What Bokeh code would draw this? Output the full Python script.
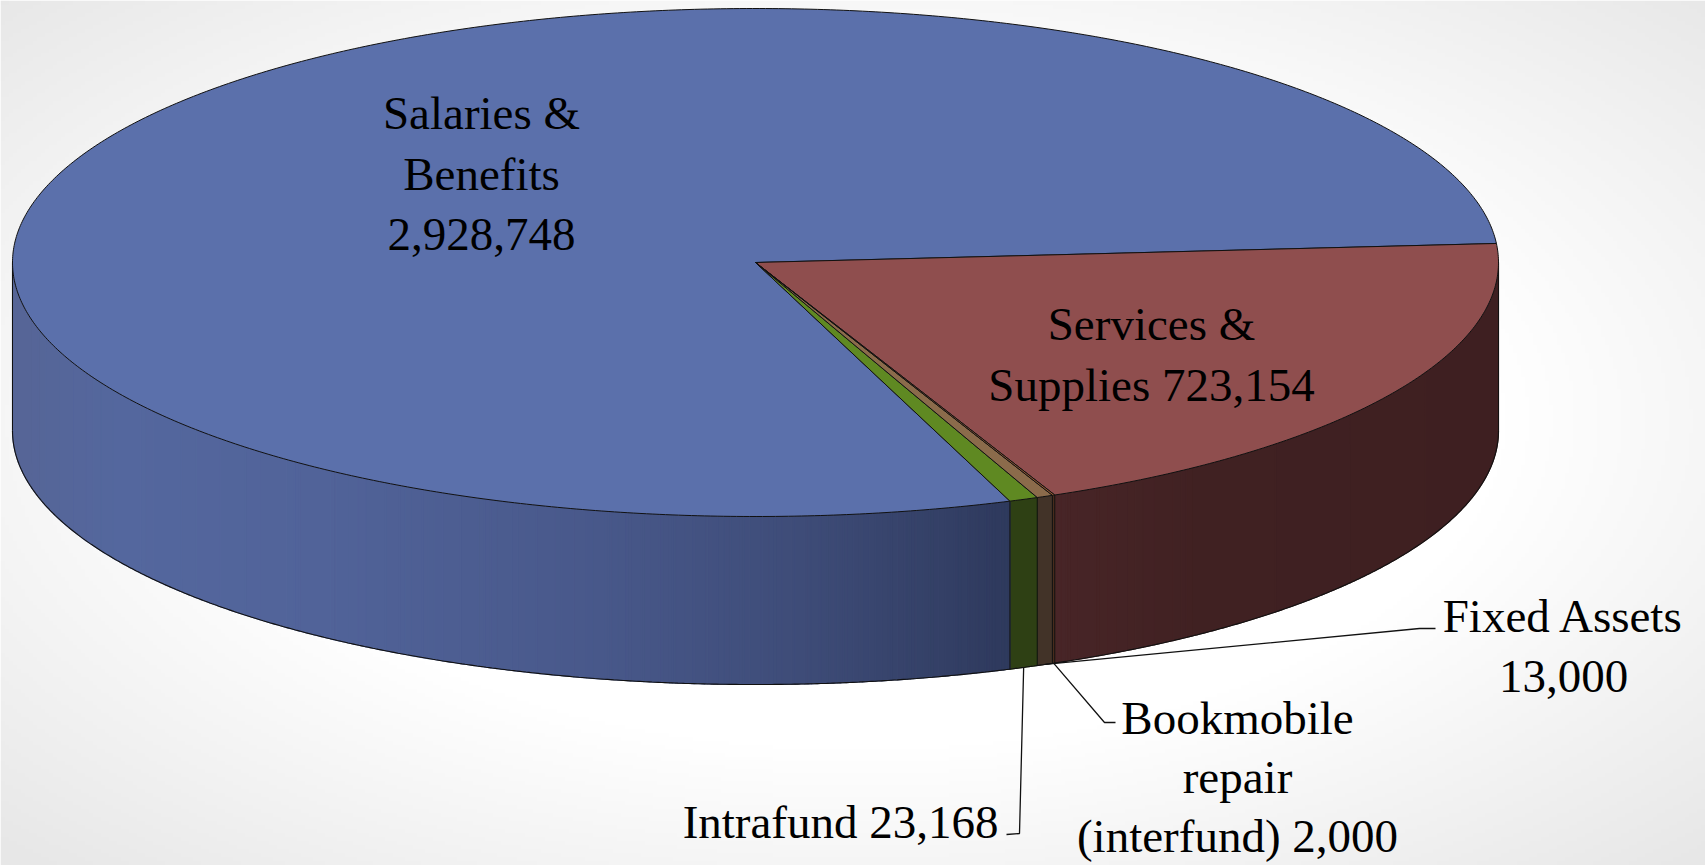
import numpy as np
from bokeh.plotting import figure
from bokeh.models import Range1d
from bokeh.embed import file_html
from bokeh.resources import INLINE
from bokeh.core.properties import value

# ---------------- data ----------------
categories = ["Services & Supplies", "Bookmobile repair (interfund)",
              "Fixed Assets", "Intrafund", "Salaries & Benefits"]
amounts = [723154, 2000, 13000, 23168, 2928748]
label_lines = [
    ["Services &", "Supplies 723,154"],
    ["Bookmobile", "repair", "(interfund) 2,000"],
    ["Fixed Assets", "13,000"],
    ["Intrafund 23,168"],
    ["Salaries &", "Benefits", "2,928,748"],
]

# ---------------- styles / layout ----------------
top_colors = ["#8f4e4e", "#9a5a32", "#8b6b4b", "#5f8922", "#5b70ab"]
side_stops = [
    ([1050, 1200, 1500], [(72, 37, 39), (64, 33, 34), (62, 31, 33)]),
    ([0, 2000], [(74, 44, 30), (74, 44, 30)]),
    ([0, 2000], [(66, 51, 40), (66, 51, 40)]),
    ([0, 2000], [(46, 64, 20), (46, 64, 20)]),
    ([11, 120, 320, 600, 800, 950, 1010],
     [(86, 101, 150), (84, 103, 158), (81, 99, 153), (72, 88, 138),
      (62, 76, 120), (51, 63, 101), (46, 57, 92)]),
]
label_pos = [(1151, 323, "center"), (1237, 717, "center"), (1563, 615, "center"),
             (998, 821, "right"), (481, 112, "center")]
LINE_GAP = [61.0, 59.0, 61.0, 61.0, 61.0]
leader_elbows = {1: [(1104, 722), (1115, 722)],
                 2: [(1419, 628), (1435, 628)],
                 3: [(1019, 833), (1006, 834)]}

CX, CY, RX, RY, DEPTH = 755.0, 262.0, 743.0, 254.0, 168.0
START = 4.3  # degrees, slices run clockwise

W, H = 1705, 865


def pt(theta, z=0.0):
    t = np.radians(theta)
    return CX + RX * np.cos(t), CY - RY * np.sin(t) + z


p = figure(width=W, height=H, x_range=Range1d(0, W), y_range=Range1d(H, 0),
           output_backend="svg", toolbar_location=None,
           x_axis_location=None, y_axis_location=None, min_border=0,
           outline_line_color=None, background_fill_color="white",
           border_fill_color="white")
p.grid.visible = False

# background radial gradient
ny, nx = H // 4, W // 4
yy, xx = np.mgrid[0:ny, 0:nx]
sx = (xx + 0.5) * W / nx
sy = (yy + 0.5) * H / ny
r = np.sqrt(((sx - 860) / 860) ** 2 + ((sy - 420) / 440) ** 2)
g = 255 - 24 * np.clip((r - 0.75) / 0.65, 0, 1)
g = g.astype(np.uint32)
img = (255 << 24) | (g << 16) | (g << 8) | g
p.image_rgba(image=[img.astype(np.uint32)], x=0, y=0, dw=W, dh=H)

# slice angles
total = float(sum(amounts))
spans = [360.0 * a / total for a in amounts]
a0s, a1s = [], []
a = START
for s in spans:
    a0s.append(a)
    a1s.append(a - s)
    a -= s


def side_color(i, x):
    xs_, cs = side_stops[i]
    cs = np.array(cs, dtype=float)
    rgb = [int(round(np.interp(x, xs_, cs[:, k]))) for k in range(3)]
    return "#%02x%02x%02x" % tuple(rgb)


# side walls (front half only: -180..0 degrees), strips merged by colour
wx, wy, wc = [], [], []
boundaries = []
for i in range(len(amounts)):
    hi = min(a0s[i], 0.0)
    lo = max(a1s[i], -180.0)
    if hi <= lo:
        continue
    n = max(1, int(np.ceil((hi - lo) / 0.25)))
    ts = np.linspace(hi, lo, n + 1)
    cols = [side_color(i, (pt(t1)[0] + pt(t2)[0]) / 2) for t1, t2 in zip(ts[:-1], ts[1:])]
    k = 0
    while k < n:
        j = k
        while j + 1 < n and cols[j + 1] == cols[k]:
            j += 1
        seg = np.linspace(ts[k], ts[j + 1], max(2, j - k + 2))
        x, y = pt(seg)
        wx.append(list(x) + list(x[::-1]))
        wy.append(list(y) + list((y + DEPTH)[::-1]))
        wc.append(cols[k])
        k = j + 1
    boundaries += [hi, lo]
p.patches(wx, wy, fill_color=wc, line_color=wc, line_width=1.2)

# wall outlines
ts = np.linspace(-180, 0, 721)
bx, by = pt(ts, DEPTH)
p.line(bx, by, line_color="#111111", line_width=1.1)
vx, vy = [], []
for b in sorted(set(np.round(boundaries, 4))):
    x, y = pt(b)
    vx.append([x, x])
    vy.append([y, y + DEPTH])
p.multi_line(vx, vy, line_color="#111111", line_width=1)

# top faces
txs, tys = [], []
for i in range(len(amounts)):
    n = max(2, int(np.ceil(abs(a0s[i] - a1s[i]) * 2)))
    t = np.linspace(a0s[i], a1s[i], n + 1)
    x, y = pt(t)
    txs.append([CX] + list(x))
    tys.append([CY] + list(y))
order = [4, 0, 3, 2, 1]
p.patches([txs[i] for i in order], [tys[i] for i in order],
          fill_color=[top_colors[i] for i in order],
          line_color="#111111", line_width=1)

# leader lines
for i, elbow in leader_elbows.items():
    mid = (a0s[i] + a1s[i]) / 2
    x0, y0 = pt(mid, DEPTH)
    lx = [x0] + [e[0] for e in elbow]
    ly = [y0] + [e[1] for e in elbow]
    p.line(lx, ly, line_color="#111111", line_width=1.3)

# labels
for i, lines in enumerate(label_lines):
    x0, y0, align = label_pos[i]
    p.text(x=[x0] * len(lines), y=[y0 + k * LINE_GAP[i] for k in range(len(lines))],
           text=lines, text_align=align, text_baseline="middle",
           text_font=value("Liberation Serif"), text_font_size="47px",
           text_color="#000000")

open("out.html", "w").write(file_html(p, INLINE))
